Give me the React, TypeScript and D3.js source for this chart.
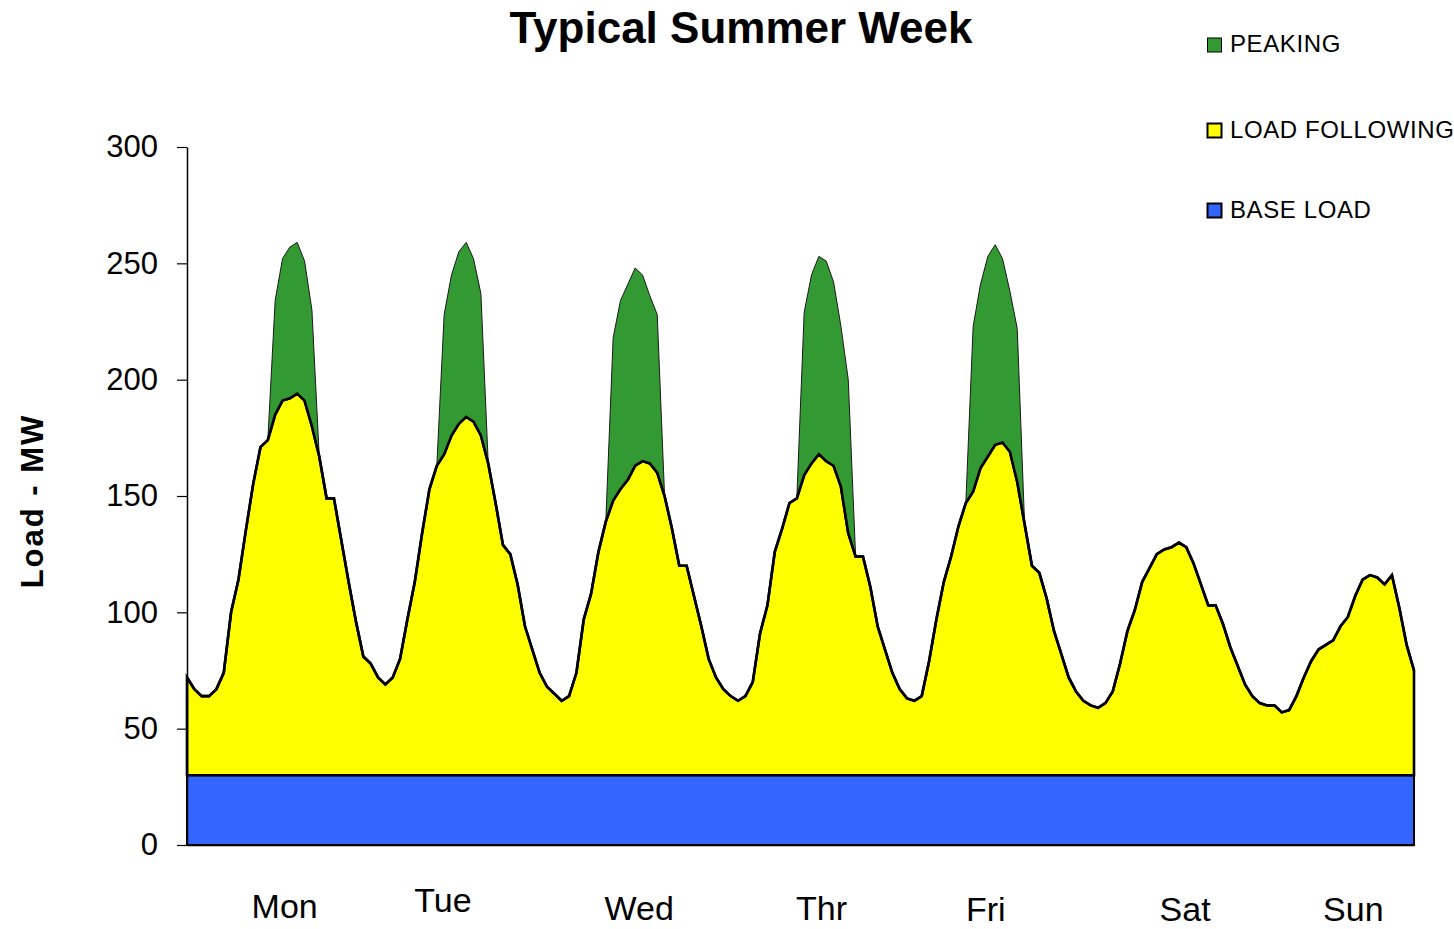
import React, { useEffect, useRef } from 'react';
import * as d3 from 'd3';

// ---- data ----
const dayLabels = ['Mon', 'Tue', 'Wed', 'Thr', 'Fri', 'Sat', 'Sun'];
const yTicks = [0, 50, 100, 150, 200, 250, 300];
const seriesKeys = ['base', 'loadFollowing', 'peaking'];
const seriesNames = ['BASE LOAD', 'LOAD FOLLOWING', 'PEAKING'];
const seriesColors = ['#3366ff', '#ffff00', '#339933'];

const baseLoadMW = 30;

// hourly load carried by base + load following units (MW), one row per day
const systemLoad = [
  72, 67, 64, 64, 67, 74, 100, 114, 135, 155, 171, 174, 185, 191, 192, 194, 191, 180, 167, 149, 149, 131, 113, 96,
  81, 78, 72, 69, 72, 80, 97, 113, 134, 153, 163, 168, 176, 181, 184, 182, 176, 164, 147, 129, 125, 112, 94, 84,
  74, 68, 65, 62, 64, 74, 97, 108, 126, 139, 148, 153, 157, 163, 165, 164, 160, 150, 136, 120, 120, 107, 94, 80,
  72, 67, 64, 62, 64, 70, 91, 103, 126, 136, 147, 149, 159, 164, 168, 165, 163, 154, 134, 124, 124, 111, 94, 84,
  74, 67, 63, 62, 64, 79, 97, 113, 124, 137, 147, 152, 162, 167, 172, 173, 169, 156, 138, 120, 117, 106, 92, 82,
  72, 66, 62, 60, 59, 61, 66, 78, 92, 101, 113, 119, 125, 127, 128, 130, 128, 121, 112, 103, 103, 95, 85, 77,
  69, 64, 61, 60, 60, 57, 58, 64, 72, 79, 84, 86, 88, 94, 98, 107, 114, 116, 115, 112, 116, 102, 86, 75,
];

// hourly peaking units on top (MW)
const peakingMW = [
  0, 0, 0, 0, 0, 0, 0, 0, 0, 0, 0, 0, 49, 61, 65, 65, 60, 50, 0, 0, 0, 0, 0, 0,
  0, 0, 0, 0, 0, 0, 0, 0, 0, 0, 0, 60, 69, 74, 75, 70, 61, 0, 0, 0, 0, 0, 0, 0,
  0, 0, 0, 0, 0, 0, 0, 0, 0, 0, 70, 81, 84, 85, 80, 72, 68, 0, 0, 0, 0, 0, 0, 0,
  0, 0, 0, 0, 0, 0, 0, 0, 0, 0, 0, 0, 70, 81, 85, 86, 79, 69, 66, 0, 0, 0, 0, 0,
  0, 0, 0, 0, 0, 0, 0, 0, 0, 0, 0, 71, 79, 86, 86, 79, 69, 66, 0, 0, 0, 0, 0, 0,
  0, 0, 0, 0, 0, 0, 0, 0, 0, 0, 0, 0, 0, 0, 0, 0, 0, 0, 0, 0, 0, 0, 0, 0,
  0, 0, 0, 0, 0, 0, 0, 0, 0, 0, 0, 0, 0, 0, 0, 0, 0, 0, 0, 0, 0, 0, 0, 0,
];

// ---- layout ----
const W = 1454;
const H = 929;
const plot = { left: 187, right: 1414, top: 147, bottom: 845 };
const font = 'Liberation Sans, Arial, Helvetica, sans-serif';
// the day names sit a little off their day's centre in the original: [dx, baseline]
const dayLabelNudge = [[10, 918], [-7, 912], [14, 920], [21, 920], [10, 921], [34, 921], [27, 921]];

export default function App() {
  const yAxisRef = useRef<SVGGElement>(null);
  const xAxisRef = useRef<SVGGElement>(null);

  const rows = systemLoad.map((v, i) => ({
    hour: i,
    base: baseLoadMW,
    loadFollowing: v - baseLoadMW,
    peaking: peakingMW[i],
  }));
  const layers = d3.stack<any>().keys(seriesKeys)(rows);

  const x = d3.scaleLinear().domain([0, rows.length - 1]).range([plot.left, plot.right]);
  const y = d3.scaleLinear().domain([0, 300]).range([plot.bottom, plot.top]);
  const days = d3.scaleBand<string>().domain(dayLabels).range([plot.left, plot.right]);

  const area = d3.area<any>()
    .x((d) => x(d.data.hour))
    .y0((d) => y(d[0]))
    .y1((d) => y(d[1]));
  const topLine = d3.line<any>()
    .x((d) => x(d.data.hour))
    .y((d) => y(d[1]));

  useEffect(() => {
    const yAxis = d3.axisLeft(y).tickValues(yTicks).tickSize(10).tickSizeOuter(0).tickPadding(19);
    const gy = d3.select(yAxisRef.current!);
    gy.selectAll('*').remove();
    gy.call(yAxis);
    gy.select('.domain').attr('stroke', '#000').attr('stroke-width', 1.5);
    gy.selectAll('.tick line').attr('stroke', '#000').attr('stroke-width', 1.2);
    gy.selectAll('.tick text').attr('font-size', 31).attr('font-family', font).attr('fill', '#000');

    const xAxis = d3.axisBottom(x).tickValues([]).tickSizeOuter(0);
    const gx = d3.select(xAxisRef.current!);
    gx.selectAll('*').remove();
    gx.call(xAxis);
    gx.select('.domain').attr('stroke', '#000').attr('stroke-width', 1.5);
  }, []);

  const [baseLayer, lfLayer, peakLayer] = layers;

  return (
    <svg width={W} height={H} style={{ position: 'absolute', left: 0, top: 0, background: '#fff' }}>
      <text x={741} y={43} textAnchor="middle" fontFamily={font} fontWeight="bold" fontSize={44}>
        Typical Summer Week
      </text>

      <path d={area(baseLayer) || ''} fill={seriesColors[0]} stroke="#000" strokeWidth={2} />
      <path d={area(lfLayer) || ''} fill={seriesColors[1]} stroke="#000" strokeWidth={2.6} />
      <path d={area(peakLayer) || ''} fill={seriesColors[2]} stroke="#1a1a1a" strokeWidth={1} />
      <path d={topLine(lfLayer) || ''} fill="none" stroke="#000" strokeWidth={2.6} />

      <g ref={xAxisRef} transform={`translate(0,${plot.bottom})`} />
      <g ref={yAxisRef} transform={`translate(${plot.left},0)`} />

      <text
        transform="translate(43,501) rotate(-90)"
        textAnchor="middle"
        fontFamily={font}
        fontWeight="bold"
        fontSize={31}
        letterSpacing={2}
      >
        Load - MW
      </text>

      {dayLabels.map((d, i) => (
        <text
          key={d}
          x={(days(d) ?? 0) + days.bandwidth() / 2 + dayLabelNudge[i][0]}
          y={dayLabelNudge[i][1]}
          textAnchor="middle"
          fontFamily={font}
          fontSize={34}
        >
          {d}
        </text>
      ))}

      {[2, 1, 0].map((s, j) => (
        <g key={seriesNames[s]} transform={`translate(1207.5,${[38, 123.5, 203.5][j]})`}>
          <rect width={14} height={14} fill={seriesColors[s]} stroke="#000" strokeWidth={s === 2 ? 1 : 2} />
          <text x={22.5} y={14} fontFamily={font} fontSize={24} letterSpacing={0.6}>
            {seriesNames[s]}
          </text>
        </g>
      ))}
    </svg>
  );
}
